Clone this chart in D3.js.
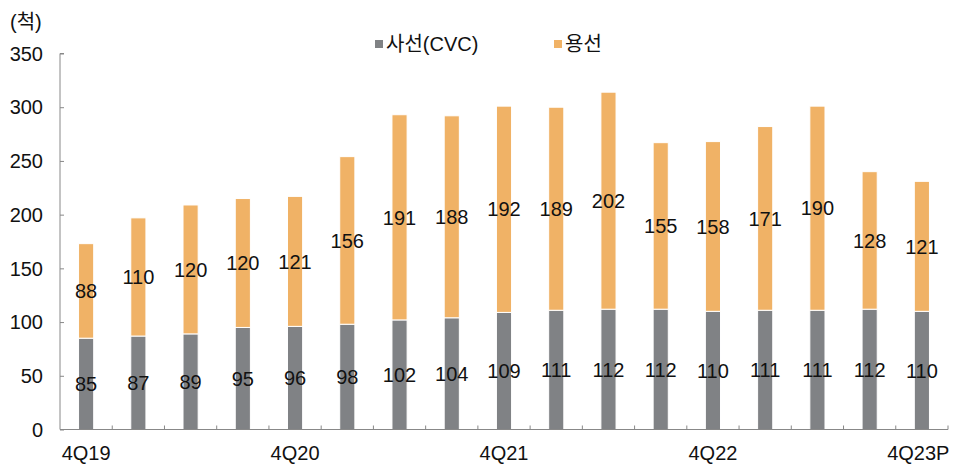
<!DOCTYPE html>
<html><head><meta charset="utf-8">
<script src="https://cdn.jsdelivr.net/npm/d3@7"></script>
<style>body{margin:0;background:#fff}svg{display:block}text{font-family:"Liberation Sans","Noto Sans CJK KR",sans-serif}</style>
</head><body><svg id="c" width="958" height="466"></svg>
<script>
const categories = ["4Q19","1Q20","2Q20","3Q20","4Q20","1Q21","2Q21","3Q21","4Q21","1Q22","2Q22","3Q22","4Q22","1Q23","2Q23","3Q23","4Q23P"];
const shownLabels = ["4Q19","4Q20","4Q21","4Q22","4Q23P"];
const seriesNames = ["사선(CVC)","용선"];
const cvc = [85,87,89,95,96,98,102,104,109,111,112,112,110,111,111,112,110];
const charter = [88,110,120,120,121,156,191,188,192,189,202,155,158,171,190,128,121];
const yTicks = [0,50,100,150,200,250,300,350];
const colors = ["#808285","#F0B266"];

const svg = d3.select("#c");
const L=60,R=948,T=53.5,B=429.5;
const x = d3.scaleBand().domain(categories).range([L,R]).paddingInner(0.71).paddingOuter(0.355);
const y = d3.scaleLinear().domain([0,350]).range([B,T]);

const data = categories.map((c,i)=>({c, v:[cvc[i],charter[i]]}));
const stack = d3.stack().keys([0,1]).value((d,k)=>d.v[k])(data);

stack.forEach((layer,k)=>{
  svg.append("g").selectAll("rect").data(layer).join("rect")
    .attr("x",d=>x(d.data.c)).attr("width",x.bandwidth())
    .attr("y",d=>y(d[1])).attr("height",d=>y(d[0])-y(d[1]))
    .attr("fill",colors[k]).attr("stroke","#fff").attr("stroke-width",1);
  svg.append("g").selectAll("text").data(layer).join("text")
    .attr("x",d=>x(d.data.c)+x.bandwidth()/2).attr("y",d=>y((d[0]+d[1])/2))
    .attr("dy","0.36em").attr("text-anchor","middle").attr("font-size",20).attr("fill","#111")
    .text(d=>d.data.v[k]);
});

// y axis
const ya = svg.append("g").attr("transform",`translate(${L},0)`)
  .call(d3.axisRight(y).tickValues(yTicks).tickSize(4).tickFormat(""));
ya.select(".domain").attr("stroke","#888").attr("d",`M4,${T}H0V${B}`);
ya.selectAll(".tick line").attr("stroke","#888");
svg.append("g").selectAll("text").data(yTicks).join("text")
  .attr("x",43).attr("y",d=>y(d)).attr("dy","0.36em").attr("text-anchor","end")
  .attr("font-size",20).attr("fill","#111").text(d=>d);

// x axis
const step = x.step();
const bounds = d3.range(categories.length+1).map(i=>L+i*step);
svg.append("line").attr("x1",L).attr("x2",R).attr("y1",B).attr("y2",B).attr("stroke","#888").attr("stroke-width",1.2);
svg.append("g").selectAll("line").data(bounds.slice(1)).join("line")
  .attr("x1",d=>d).attr("x2",d=>d).attr("y1",B).attr("y2",B-4).attr("stroke","#888");
const xa = svg.append("g").attr("transform",`translate(0,${B})`)
  .call(d3.axisBottom(x).tickValues(shownLabels).tickSize(0));
xa.select(".domain").remove();
xa.selectAll("text").attr("font-size",20).attr("fill","#111").attr("y",16)
  .attr("font-family",'"Liberation Sans",sans-serif')
  .attr("text-anchor",d=>d==="4Q23P"?"end":"middle")
  .attr("dx",d=>d==="4Q23P"?x.bandwidth()/2+20:0);

// unit
svg.append("text").attr("x",10).attr("y",22).attr("dy","0.36em").attr("font-size",20).attr("fill","#111").text("(척)");

// legend
const lg = [[375,seriesNames[0]],[554,seriesNames[1]]];
lg.forEach(([lx,t],k)=>{
  svg.append("rect").attr("x",lx).attr("y",40).attr("width",8).attr("height",8).attr("fill",colors[k]);
  svg.append("text").attr("x",lx+11).attr("y",44).attr("dy","0.36em").attr("font-size",20).attr("fill","#111").text(t);
});
</script></body></html>
